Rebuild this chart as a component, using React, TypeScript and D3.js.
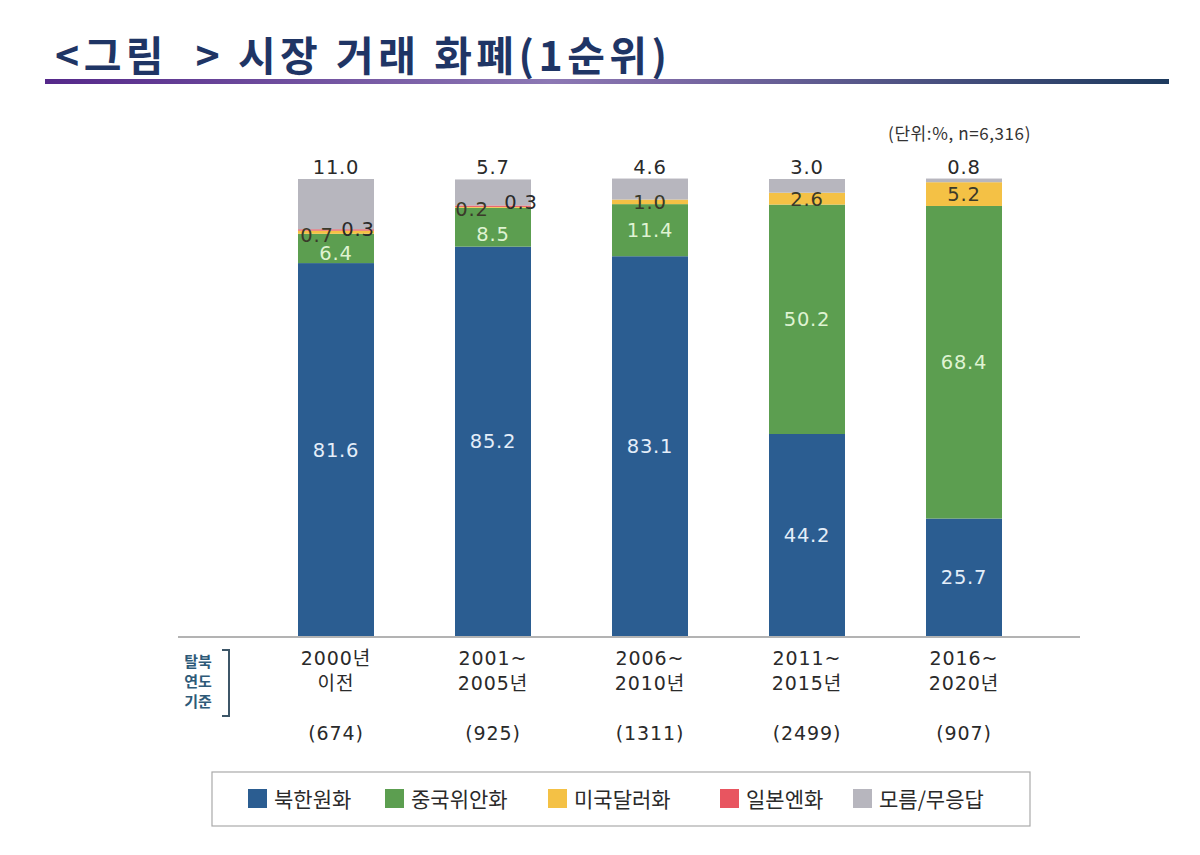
import React from "react";
import * as d3 from "d3";

const categories = ["2000년 이전", "2001~2005년", "2006~2010년", "2011~2015년", "2016~2020년"];
const catLine1 = ["2000년", "2001~", "2006~", "2011~", "2016~"];
const catLine2 = ["이전", "2005년", "2010년", "2015년", "2020년"];
const sampleSizes = ["(674)", "(925)", "(1311)", "(2499)", "(907)"];

const seriesNames = ["북한원화", "중국위안화", "미국달러화", "일본엔화", "모름/무응답"];
const northKoreanWon = [81.6, 85.2, 83.1, 44.2, 25.7];
const chineseYuan = [6.4, 8.5, 11.4, 50.2, 68.4];
const usDollar = [0.7, 0.2, 1.0, 2.6, 5.2];
const japaneseYen = [0.3, 0.3, 0, 0, 0];
const unknown = [11.0, 5.7, 4.6, 3.0, 0.8];

const colors = ["#2b5d91", "#5c9e50", "#f4c145", "#e85560", "#b7b6be"];
const labelColors = ["#e4eef9", "#dff3d2", "#3a3a2a", "#2a2a2a", "#333"];

const seriesValues = [northKoreanWon, chineseYuan, usDollar, japaneseYen, unknown];

export default function App() {
  const rows = categories.map((c, i) => {
    const r: any = { cat: c };
    seriesNames.forEach((s, k) => (r[s] = seriesValues[k][i]));
    return r;
  });
  const stack = d3.stack<any>().keys(seriesNames);
  const stacked = stack(rows);

  const x = d3
    .scaleBand<string>()
    .domain(categories)
    .range([257.5, 1042.5])
    .paddingInner(0.516)
    .paddingOuter(0.258);
  const y = d3.scaleLinear().domain([0, 100]).range([636, 179]);
  const bw = x.bandwidth();

  // label nudges for crowded segments: key "bar-series" -> [dx from bar left (or null = centre), dy]
  const nudge: Record<string, [number | null, number]> = {
    "0-1": [null, 5],
    "0-2": [19, 3],
    "0-3": [60, -1],
    "1-1": [null, 7],
    "1-2": [17, 2],
    "1-3": [66, -4],
  };

  const numFont = "'DejaVu Sans', 'Noto Sans CJK KR', sans-serif";
  const krFont = "'Noto Sans CJK KR', 'DejaVu Sans', sans-serif";

  const legendX = [248, 385, 548, 720, 853];

  return (
    <svg
      width={1200}
      height={855}
      style={{ position: "absolute", left: 0, top: 0, background: "#fff" }}
    >
      <defs>
        <linearGradient id="tl" x1="0" x2="1" y1="0" y2="0">
          <stop offset="0" stopColor="#55288a" />
          <stop offset="0.45" stopColor="#8c78b4" />
          <stop offset="0.55" stopColor="#7d6aa6" />
          <stop offset="1" stopColor="#1d3a5e" />
        </linearGradient>
      </defs>
      <rect width={1200} height={855} fill="#fff" />
      <text
        x={55}
        y={71}
        fontFamily={krFont}
        fontWeight={700}
        fontSize={41}
        fill="#1f3565"
        textLength={612}
        lengthAdjust="spacing"
        style={{ whiteSpace: "pre" }}
      >
        {"<그림  > 시장 거래 화폐(1순위)"}
      </text>
      <rect x={45} y={79} width={1124} height={5} fill="url(#tl)" />

      <text
        x={1031}
        y={140}
        textAnchor="end"
        fontFamily={krFont}
        fontSize={17}
        letterSpacing={0.6}
        fill="#333"
      >
        (단위:%, n=6,316)
      </text>

      {stacked.map((layer, k) => (
        <g key={layer.key}>
          {layer.map((d, i) => {
            const v = d[1] - d[0];
            if (v <= 0) return null;
            return (
              <rect
                key={i}
                x={x(categories[i])}
                y={y(d[1])}
                width={bw}
                height={y(d[0]) - y(d[1])}
                fill={colors[k]}
              />
            );
          })}
        </g>
      ))}

      {stacked.map((layer, k) => (
        <g key={"l" + layer.key}>
          {layer.map((d, i) => {
            const v = d[1] - d[0];
            if (v <= 0) return null;
            const x0 = x(categories[i]) as number;
            let tx = x0 + bw / 2;
            let ty = (y(d[0]) + y(d[1])) / 2;
            let fill = labelColors[k];
            let dy = "0.36em";
            if (k === 4) {
              ty = y(d[1]) - 5;
              dy = "0";
              fill = "#2a2a2a";
            }
            const n = nudge[`${i}-${k}`];
            if (n) {
              if (n[0] !== null) tx = x0 + n[0];
              ty = ty + n[1];
            }
            return (
              <text
                key={i}
                x={tx}
                y={ty}
                dy={dy}
                textAnchor="middle"
                fontFamily={numFont}
                fontSize={19.5}
                fill={fill}
                letterSpacing={0.8}
              >
                {v.toFixed(1)}
              </text>
            );
          })}
        </g>
      ))}

      <line x1={178} x2={1080} y1={637} y2={637} stroke="#9a9a9a" strokeWidth={1.5} />

      {categories.map((c, i) => {
        const cx = (x(c) as number) + bw / 2;
        return (
          <g
            key={c}
            fontFamily={numFont}
            fontSize={19}
            fill="#2a2a2a"
            textAnchor="middle"
            letterSpacing={0.9}
          >
            <text x={cx} y={665}>{catLine1[i]}</text>
            <text x={cx} y={690}>{catLine2[i]}</text>
            <text x={cx} y={740}>{sampleSizes[i]}</text>
          </g>
        );
      })}

      <g fontFamily={krFont} fontWeight={700} fontSize={15} fill="#2e5a78" textAnchor="middle">
        <text x={198} y={667}>탈북</text>
        <text x={198} y={687}>연도</text>
        <text x={198} y={707}>기준</text>
      </g>
      <path d="M222,650 H229 V716 H222" fill="none" stroke="#3d5668" strokeWidth={2} />

      <rect x={212} y={772} width={818} height={54} fill="#fff" stroke="#aaa" strokeWidth={1.2} />
      {seriesNames.map((s, k) => (
        <g key={s}>
          <rect x={legendX[k]} y={789} width={19} height={19} fill={colors[k]} />
          <text
            x={legendX[k] + 26}
            y={799}
            dy="0.36em"
            fontFamily={krFont}
            fontSize={21}
            fill="#2a2a2a"
          >
            {s}
          </text>
        </g>
      ))}
    </svg>
  );
}
